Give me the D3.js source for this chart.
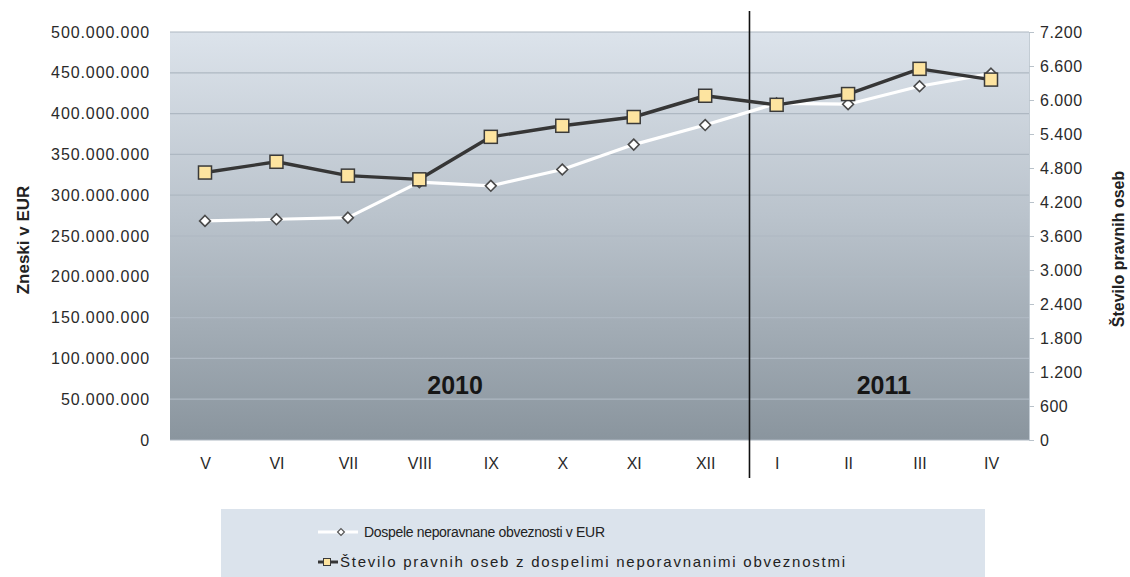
<!DOCTYPE html>
<html>
<head>
<meta charset="utf-8">
<script src="https://cdn.jsdelivr.net/npm/d3@7"></script>
<style>
  html, body { margin: 0; padding: 0; background: #fff; }
  svg { display: block; font-family: "Liberation Sans", Arial, sans-serif; }
</style>
</head>
<body>
<svg id="chart" width="1130" height="577"></svg>
<script>
// Months (Roman numerals), May 2010 – April 2011
const months = ["V", "VI", "VII", "VIII", "IX", "X", "XI", "XII", "I", "II", "III", "IV"];
const years = [
  { label: "2010", from: "V", to: "XII" },
  { label: "2011", from: "I", to: "IV" }
];
// Overdue unsettled liabilities, EUR
const amountsEUR = [268.5e6, 270.5e6, 272.5e6, 316e6, 311.5e6, 331.5e6, 362e6, 386e6, 412.5e6, 411.5e6, 433.5e6, 449e6];
// Number of legal entities with overdue unsettled liabilities
const entityCounts = [4720, 4910, 4665, 4600, 5350, 5545, 5700, 6075, 5915, 6105, 6550, 6360];
// Axis ticks
const leftTicks = d3.range(0, 500e6 + 1, 50e6);
const rightTicks = d3.range(0, 7200 + 1, 600);

const seriesNames = [
  "Dospele neporavnane obveznosti v EUR",
  "Število pravnih oseb z dospelimi neporavnanimi obveznostmi"
];

const svg = d3.select("#chart");
const plot = { left: 170, right: 1029, top: 32, bottom: 440 };

const x = d3.scalePoint().domain(months).range([205, 991]);
const yL = d3.scaleLinear().domain([0, 500e6]).range([plot.bottom, plot.top]);
const yR = d3.scaleLinear().domain([0, 7200]).range([plot.bottom, plot.top]);

const fmt = d3.formatLocale({ decimal: ",", thousands: ".", grouping: [3], currency: ["", " €"] }).format(",d");

// Plot background gradient
const defs = svg.append("defs");
const grad = defs.append("linearGradient").attr("id", "bg").attr("x1", 0).attr("y1", 0).attr("x2", 0).attr("y2", 1);
grad.append("stop").attr("offset", "0%").attr("stop-color", "#dce3eb");
grad.append("stop").attr("offset", "45%").attr("stop-color", "#bac3cc");
grad.append("stop").attr("offset", "100%").attr("stop-color", "#8a959e");

svg.append("rect")
  .attr("x", plot.left).attr("y", plot.top)
  .attr("width", plot.right - plot.left).attr("height", plot.bottom - plot.top)
  .attr("fill", "url(#bg)");

// Horizontal gridlines
svg.append("g").selectAll("line").data(leftTicks).join("line")
  .attr("x1", plot.left).attr("x2", plot.right)
  .attr("y1", d => yL(d)).attr("y2", d => yL(d))
  .attr("stroke", "#aeb8c2").attr("stroke-width", 1.2);

// Left axis
const leftAxis = svg.append("g")
  .attr("transform", `translate(${plot.left},0)`)
  .call(d3.axisLeft(yL).tickValues(leftTicks).tickFormat(fmt).tickSize(0).tickPadding(20));
leftAxis.select(".domain").remove();
leftAxis.selectAll("text")
  .attr("font-size", 16).attr("fill", "#2a2a2a").attr("letter-spacing", "0.9px")
  .attr("font-family", "Liberation Sans, Arial, sans-serif");

// Right axis
const rightAxis = svg.append("g")
  .attr("transform", `translate(${plot.right},0)`)
  .call(d3.axisRight(yR).tickValues(rightTicks).tickFormat(fmt).tickSize(5).tickPadding(6));
rightAxis.select(".domain").attr("stroke", "#c3ccd4");
rightAxis.selectAll(".tick line").attr("stroke", "#b9c2ca");
rightAxis.selectAll("text")
  .attr("font-size", 16).attr("fill", "#2a2a2a").attr("letter-spacing", "0.5px")
  .attr("font-family", "Liberation Sans, Arial, sans-serif");

// Bottom axis (month labels)
const bottomAxis = svg.append("g")
  .attr("transform", `translate(0,${plot.bottom})`)
  .call(d3.axisBottom(x).tickSize(0).tickPadding(18));
bottomAxis.select(".domain").remove();
bottomAxis.selectAll("text")
  .attr("font-size", 16).attr("fill", "#2a2a2a")
  .attr("font-family", "Liberation Sans, Arial, sans-serif");

// Axis titles
svg.append("text")
  .attr("transform", `translate(29,240) rotate(-90)`)
  .attr("text-anchor", "middle")
  .attr("font-size", 17).attr("font-weight", "bold").attr("fill", "#222")
  .text("Zneski v EUR");
svg.append("text")
  .attr("transform", `translate(1124,249) rotate(-90)`)
  .attr("text-anchor", "middle")
  .attr("font-size", 16).attr("font-weight", "bold").attr("fill", "#222")
  .text("Število pravnih oseb");

// Year labels
svg.append("g").selectAll("text").data(years).join("text")
  .attr("x", d => (x(d.from) + x(d.to)) / 2)
  .attr("y", yL(60e6) + 3)
  .attr("text-anchor", "middle")
  .attr("font-size", 25).attr("font-weight", "bold").attr("fill", "#161616")
  .text(d => d.label);

// Year separator
const sepX = x("XII") + x.step() * 0.62;
svg.append("line")
  .attr("x1", sepX).attr("x2", sepX)
  .attr("y1", 11).attr("y2", 478)
  .attr("stroke", "#111").attr("stroke-width", 1.6);

// EUR series: white line with diamond markers
const eurData = months.map((m, i) => ({ m, v: amountsEUR[i] }));
svg.append("path").datum(eurData)
  .attr("fill", "none").attr("stroke", "#ffffff").attr("stroke-width", 3.2)
  .attr("stroke-linejoin", "round")
  .attr("d", d3.line().x(d => x(d.m)).y(d => yL(d.v)));
const diamond = d3.symbol().type(d3.symbolDiamond2).size(75);
svg.append("g").selectAll("path").data(eurData).join("path")
  .attr("transform", d => `translate(${x(d.m)},${yL(d.v)})`)
  .attr("d", diamond)
  .attr("fill", "#ffffff").attr("stroke", "#4a4a4a").attr("stroke-width", 1.6);

// Entity count series: dark line with square markers
const cntData = months.map((m, i) => ({ m, v: entityCounts[i] }));
svg.append("path").datum(cntData)
  .attr("fill", "none").attr("stroke", "#363636").attr("stroke-width", 3.4)
  .attr("stroke-linejoin", "round")
  .attr("d", d3.line().x(d => x(d.m)).y(d => yR(d.v)));
const sq = 13;
svg.append("g").selectAll("rect").data(cntData).join("rect")
  .attr("x", d => x(d.m) - sq / 2).attr("y", d => yR(d.v) - sq / 2)
  .attr("width", sq).attr("height", sq)
  .attr("fill", "#fde4a0").attr("stroke", "#3a3a3a").attr("stroke-width", 1.5);

// Legend
const legend = svg.append("g");
legend.append("rect")
  .attr("x", 221).attr("y", 509).attr("width", 764).attr("height", 70)
  .attr("fill", "#dbe3ec");
// entry 1
legend.append("line").attr("x1", 318).attr("x2", 358).attr("y1", 532).attr("y2", 532)
  .attr("stroke", "#ffffff").attr("stroke-width", 3);
legend.append("path").attr("transform", "translate(341,532)")
  .attr("d", d3.symbol().type(d3.symbolDiamond2).size(30))
  .attr("fill", "#ffffff").attr("stroke", "#555").attr("stroke-width", 1.2);
legend.append("text").attr("x", 364).attr("y", 537)
  .attr("font-size", 14).attr("fill", "#222")
  .attr("textLength", 241).attr("lengthAdjust", "spacing")
  .text(seriesNames[0]);
// entry 2
legend.append("line").attr("x1", 318).attr("x2", 338).attr("y1", 562).attr("y2", 562)
  .attr("stroke", "#363636").attr("stroke-width", 3);
legend.append("rect").attr("x", 323.5).attr("y", 558.5).attr("width", 7).attr("height", 7)
  .attr("fill", "#fde4a0").attr("stroke", "#3a3a3a").attr("stroke-width", 1);
legend.append("text").attr("x", 340).attr("y", 567)
  .attr("font-size", 15).attr("fill", "#222")
  .attr("textLength", 505).attr("lengthAdjust", "spacing")
  .text(seriesNames[1]);
</script>
</body>
</html>
